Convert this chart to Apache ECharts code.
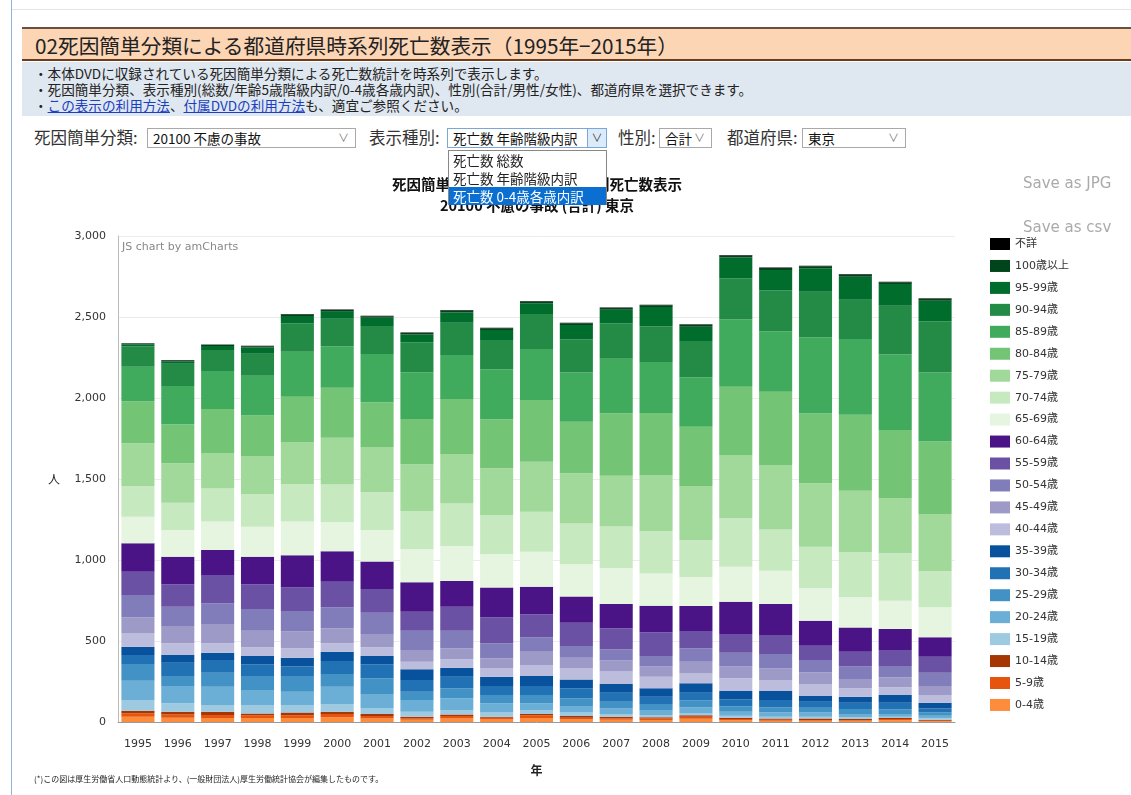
<!DOCTYPE html>
<html>
<head>
<meta charset="utf-8">
<script src="https://cdn.jsdelivr.net/npm/echarts@6/dist/echarts.min.js"></script>
<style>
  body { margin: 0; width: 1131px; height: 795px; overflow: hidden; background: #fff; font-family: "Noto Sans CJK JP", sans-serif; position: relative; }
  .abs { position: absolute; }
  #leftline { left: 11px; top: 0; width: 1px; height: 795px; background: #8fb2d6; }
  #topline { left: 12px; top: 9px; right: 0; height: 1px; background: #e4e4e4; }
  #head { left: 22px; top: 27px; right: 0; height: 30px; background: #fcd5b5; border-top: 2px solid #6b5040; border-bottom: 2px solid #6b3c1c; }
  #head span { position: absolute; left: 13px; top: 1px; font-size: 20.7px; color: #222; white-space: nowrap; }
  #info { left: 22px; top: 62px; right: 0; height: 54px; background: #dfe7f0; font-size: 13.6px; line-height: 16px; color: #222; }
  #info div { position: absolute; left: 12px; white-space: nowrap; }
  #info a { color: #1a3fbf; text-decoration: underline; }
  .lbl { font-size: 16.5px; line-height: 20px; color: #333; white-space: nowrap; top: 127px; }
  .sel { top: 128px; height: 20px; border: 1px solid #a9a9a9; background: #fff; font-size: 13.5px; color: #111; box-sizing: border-box; }
  .sel span { position: absolute; left: 5px; top: -1px; white-space: nowrap; }
  .sel i { position: absolute; right: 6px; top: 0px; font-style: normal; color: #777; font-size: 11px; }
  #dd { left: 448px; top: 150px; width: 159px; height: 55px; background: #fff; border: 1px solid #888; box-sizing: border-box; z-index: 5; font-size: 13.5px; color: #222; }
  #dd div { position: absolute; left: 0; width: 157px; height: 18px; line-height: 18px; padding-left: 4px; box-sizing: border-box; white-space: nowrap; }
  #chart { left: 0; top: 160px; width: 1131px; height: 635px; }
  .save { left: 1023px; font-size: 15px; color: #aaa; font-family: "DejaVu Sans", sans-serif; z-index: 3; }
  #foot { left: 34px; top: 773px; font-size: 8px; color: #222; white-space: nowrap; z-index: 3; }
</style>
</head>
<body>
<div class="abs" id="leftline"></div>
<div class="abs" id="topline"></div>
<div class="abs" id="head"><span>02死因簡単分類による都道府県時系列死亡数表示（1995年−2015年）</span></div>
<div class="abs" id="info">
  <div style="top:3px">・本体DVDに収録されている死因簡単分類による死亡数統計を時系列で表示します。</div>
  <div style="top:19px">・死因簡単分類、表示種別(総数/年齢5歳階級内訳/0-4歳各歳内訳)、性別(合計/男性/女性)、都道府県を選択できます。</div>
  <div style="top:35px">・<a>この表示の利用方法</a>、<a>付属DVDの利用方法</a>も、適宜ご参照ください。</div>
</div>

<div class="abs lbl" style="left:34px">死因簡単分類:</div>
<div class="abs sel" style="left:147px;width:209px"><span>20100 不慮の事故</span><i>∨</i></div>
<div class="abs lbl" style="left:369px">表示種別:</div>
<div class="abs sel" style="left:447px;width:160px;border-color:#7aa7d8"><span>死亡数 年齢階級内訳</span>
  <i style="right:0;top:0;width:18px;height:18px;background:#dcebfa;border-left:1px solid #7aa7d8;text-align:center;color:#333">∨</i></div>
<div class="abs lbl" style="left:618px">性別:</div>
<div class="abs sel" style="left:659px;width:53px"><span>合計</span><i>∨</i></div>
<div class="abs lbl" style="left:727px">都道府県:</div>
<div class="abs sel" style="left:802px;width:104px"><span>東京</span><i>∨</i></div>

<div class="abs" id="dd">
  <div style="top:0px">死亡数 総数</div>
  <div style="top:18px">死亡数 年齢階級内訳</div>
  <div style="top:36px;background:#0a6fd1;color:#fff">死亡数 0-4歳各歳内訳</div>
</div>

<div class="abs save" style="top:174px">Save as JPG</div>
<div class="abs save" style="top:218px">Save as csv</div>

<div class="abs" id="chart"></div>
<div class="abs" id="foot">(*)この図は厚生労働省人口動態統計より、(一般財団法人)厚生労働統計協会が編集したものです。</div>

<script>
// 年
const years = ['1995','1996','1997','1998','1999','2000','2001','2002','2003','2004','2005','2006','2007','2008','2009','2010','2011','2012','2013','2014','2015']
const yTicks = [0, 500, 1000, 1500, 2000, 2500, 3000]

// 年齢階級別 死亡数（下から順）
const d0_4 = [32,27,25,25,25,29,22,14,22,16,24,16,14,13,20,11,8,7,7,11,5]
const d5_9 = [22,20,18,16,16,20,15,9,15,11,17,11,9,8,13,8,6,5,5,8,3]
const d10_14 = [16,17,21,12,17,15,12,10,10,6,8,10,10,8,8,8,7,9,7,6,6]
const d15_19 = [66,51,41,52,47,47,35,31,27,25,25,21,16,14,12,12,12,12,10,8,9]
const d20_24 = [119,107,113,93,82,107,89,72,72,57,41,41,35,31,36,25,27,25,20,16,16]
const d25_29 = [103,62,86,86,93,78,97,51,62,52,52,47,41,37,43,31,31,30,31,29,19]
const d30_34 = [56,82,79,72,62,81,86,72,72,55,55,62,56,45,49,45,45,37,39,41,26]
const d35_39 = [51,48,45,51,55,57,51,66,55,58,62,55,54,52,58,51,55,35,37,48,35]
const d40_44 = [82,72,58,54,58,52,54,47,52,51,68,68,76,72,61,79,68,75,52,47,48]
const d45_49 = [99,107,119,103,103,92,82,72,68,62,82,66,68,62,72,72,72,72,57,62,55]
const d50_54 = [138,119,128,134,127,130,132,120,109,93,89,72,70,65,83,86,89,76,77,70,82]
const d55_59 = [144,138,174,152,146,158,146,117,148,160,142,144,129,147,107,115,117,88,92,98,99]
const d60_64 = [175,170,155,170,198,188,169,181,158,185,170,161,150,164,154,200,191,154,150,130,120]
const d65_69 = [164,165,175,186,208,179,195,204,217,206,216,199,222,198,179,216,206,200,186,175,185]
const d70_74 = [190,169,205,201,232,233,233,236,261,241,247,253,257,261,228,298,254,257,280,292,222]
const d75_79 = [263,243,218,232,257,288,276,289,306,288,309,309,313,344,334,391,398,391,378,342,354]
const d80_84 = [260,241,272,253,282,309,279,279,340,303,381,319,386,386,366,422,453,432,469,420,447]
const d85_89 = [213,236,235,246,278,257,299,289,272,309,315,303,336,315,305,416,371,470,467,465,427]
const d90_94 = [127,138,129,135,175,169,172,185,199,180,216,205,220,220,224,253,253,281,243,302,315]
const d95_99 = [12,15,25,38,45,44,51,48,63,61,66,89,82,120,88,129,127,145,142,134,128]
const d100 = [3,5,7,8,10,10,10,10,12,12,11,11,12,11,12,12,12,13,14,11,11]
const dUnknown = [3,3,3,3,3,3,3,3,3,3,3,3,3,3,3,3,3,3,3,3,3]

const groups = [
  ['0-4歳', d0_4], ['5-9歳', d5_9], ['10-14歳', d10_14], ['15-19歳', d15_19],
  ['20-24歳', d20_24], ['25-29歳', d25_29], ['30-34歳', d30_34], ['35-39歳', d35_39],
  ['40-44歳', d40_44], ['45-49歳', d45_49], ['50-54歳', d50_54], ['55-59歳', d55_59],
  ['60-64歳', d60_64], ['65-69歳', d65_69], ['70-74歳', d70_74], ['75-79歳', d75_79],
  ['80-84歳', d80_84], ['85-89歳', d85_89], ['90-94歳', d90_94], ['95-99歳', d95_99],
  ['100歳以上', d100], ['不詳', dUnknown]
]
const colors = [
  '#fd8d3c', '#e6550d', '#a63603',
  '#9ecae1', '#6baed6', '#4292c6', '#2171b5', '#08519c',
  '#bcbddc', '#9e9ac8', '#807dba', '#6a51a3', '#4a1486',
  '#e5f5e0', '#c7e9c0', '#a1d99b', '#74c476', '#41ab5d', '#238b45', '#006d2c', '#00441b', '#000000'
]

const chart = echarts.init(document.getElementById('chart'))
chart.setOption({
  animation: false,
  color: colors,
  textStyle: { fontFamily: '"Noto Sans CJK JP", sans-serif' },
  grid: { left: 118, top: 76, width: 837, height: 486 },
  legend: {
    orient: 'vertical',
    left: 985,
    top: 73,
    icon: 'rect',
    itemWidth: 20,
    itemHeight: 12,
    itemGap: 9.95,
    textStyle: { fontSize: 11, color: '#333', fontFamily: '"DejaVu Sans", "Noto Sans CJK JP", sans-serif' },
    data: groups.map(g => g[0]).reverse()
  },
  graphic: [
    // チャートタイトル（中央揃え）
    { type: 'text', x: 537, y: 17, style: { text: '死因簡単分類別年齢階級別時系列死亡数表示', fill: '#111', align: 'center', font: 'bold 14.5px "Noto Sans CJK JP"' } },
    { type: 'text', x: 537, y: 38, style: { text: '20100 不慮の事故 (合計) 東京', fill: '#111', align: 'center', font: 'bold 14.5px "Noto Sans CJK JP"' } },
    { type: 'text', x: 122, y: 82, style: { text: 'JS chart by amCharts', fill: '#888', font: '11px "DejaVu Sans"' } }
  ],
  xAxis: {
    type: 'category',
    data: years,
    name: '年',
    nameLocation: 'middle',
    nameGap: 42,
    nameTextStyle: { fontWeight: 'bold', fontSize: 12, color: '#222' },
    axisLine: { lineStyle: { color: '#999' } },
    axisTick: { alignWithLabel: true, length: 5, lineStyle: { color: '#999' } },
    axisLabel: { color: '#333', fontSize: 11, margin: 17, fontFamily: '"DejaVu Sans"' }
  },
  yAxis: {
    type: 'value',
    min: 0,
    max: 3000,
    interval: 500,
    name: '人',
    nameLocation: 'middle',
    nameRotate: 0,
    nameGap: 58,
    nameTextStyle: { fontSize: 12, color: '#222' },
    axisLine: { show: true, lineStyle: { color: '#bbb' } },
    axisTick: { show: false },
    axisLabel: {
      color: '#333',
      fontSize: 11,
      margin: 12,
      fontFamily: '"DejaVu Sans"',
      formatter: v => yTicks.includes(v) ? v.toLocaleString('en-US') : ''
    },
    splitLine: { lineStyle: { color: '#ececec' } }
  },
  series: groups.map(g => ({
    name: g[0],
    type: 'bar',
    stack: 'total',
    barCategoryGap: '17%',
    data: g[1]
  }))
})
</script>
</body>
</html>
